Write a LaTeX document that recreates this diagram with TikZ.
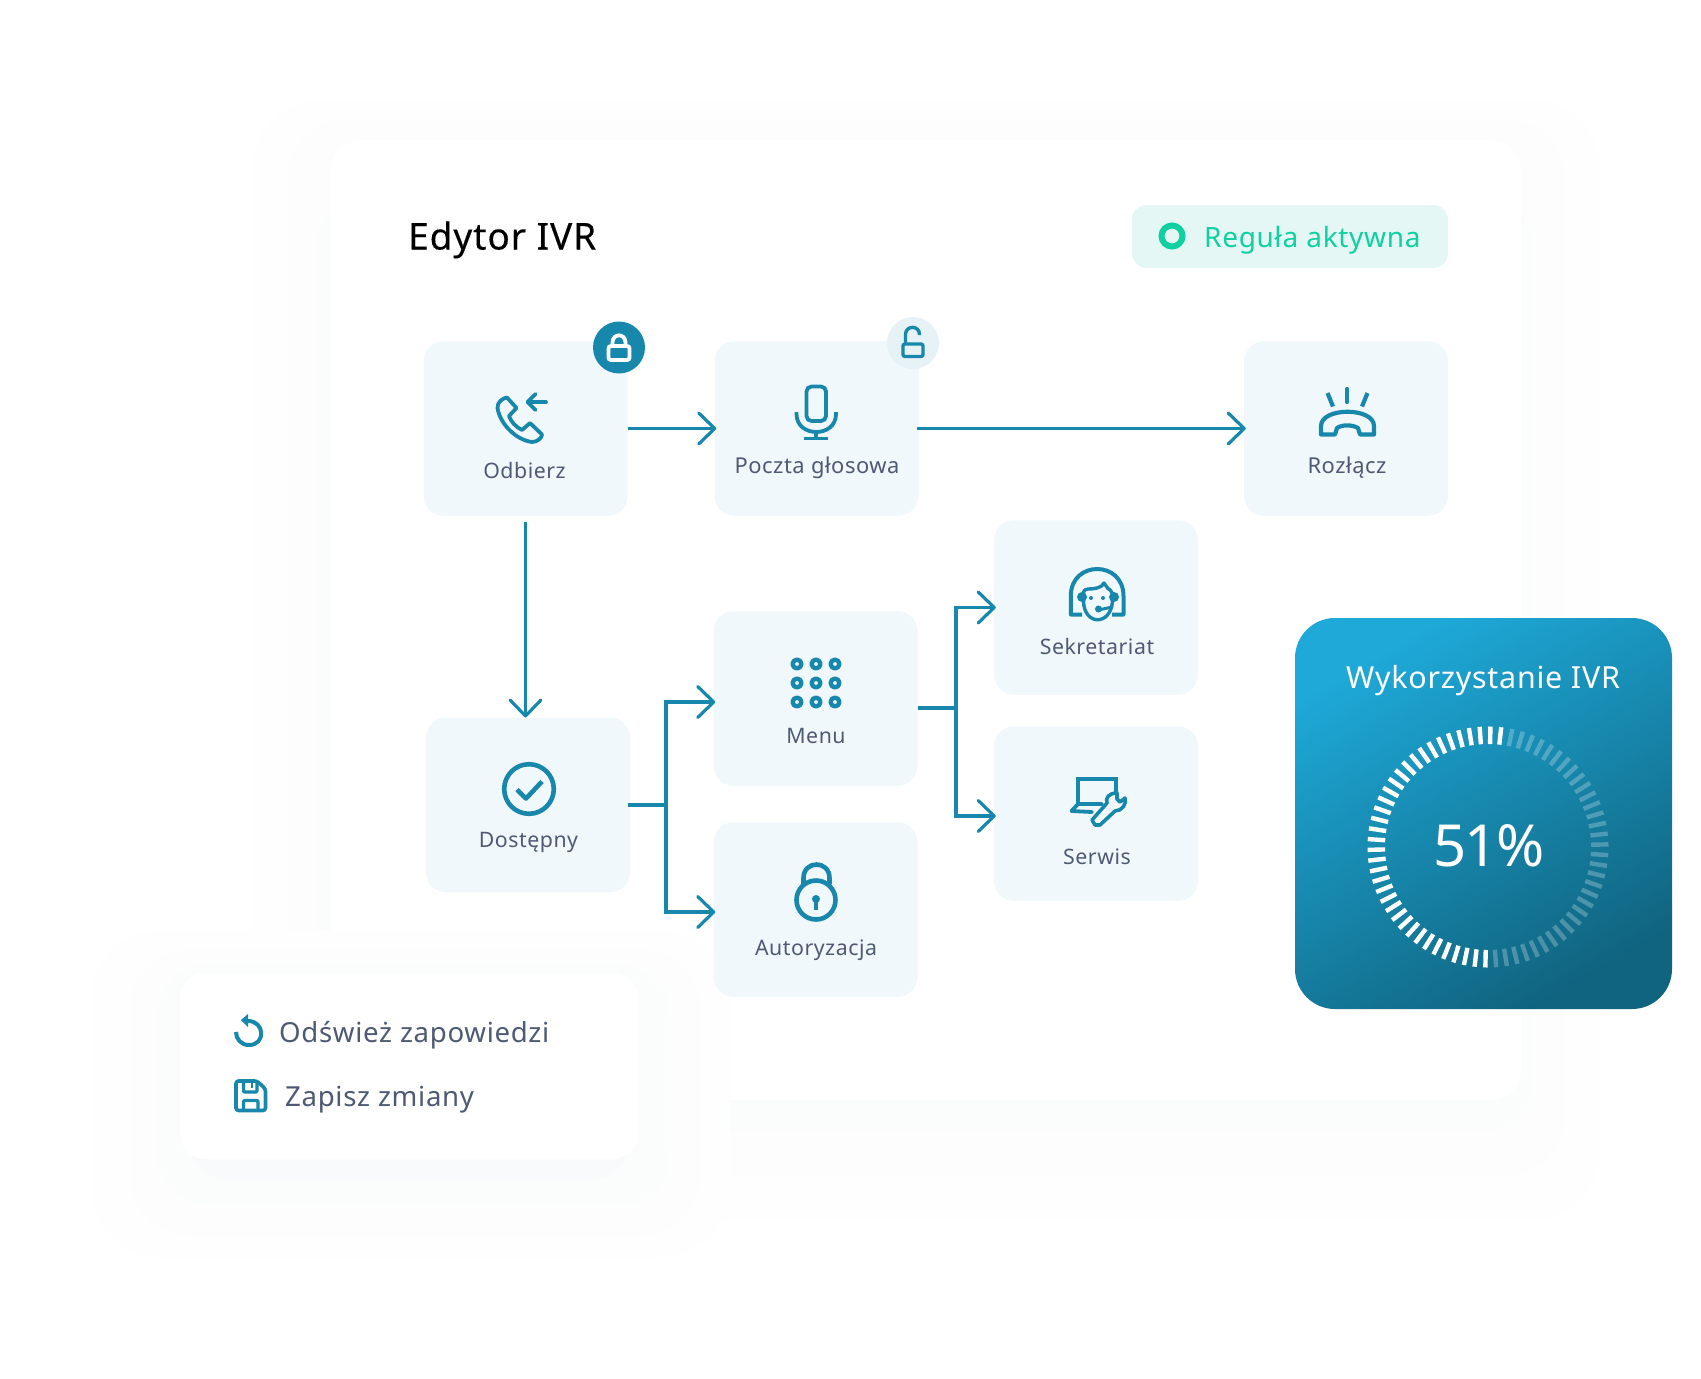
\documentclass[tikz,border=0pt]{standalone}
\usepackage{fontspec}
\setmainfont[LetterSpace=2.5]{Noto Sans}
\newfontfamily\tightfont[LetterSpace=-3]{Noto Sans}
\newfontfamily\titlefont[LetterSpace=2.5,FakeBold=0.3]{Noto Sans}
\usetikzlibrary{arrows.meta,calc}
\definecolor{flowblue}{HTML}{1788AC}
\definecolor{boxfill}{HTML}{F1F8FC}
\definecolor{labelgray}{HTML}{4E5A74}
\definecolor{ruleteal}{HTML}{0FD0A0}
\definecolor{rulefill}{HTML}{E4F7F4}
\definecolor{lockfill}{HTML}{E6F2F6}
\definecolor{gaugetop}{HTML}{1EA9D8}
\definecolor{gaugebot}{HTML}{106480}
\definecolor{shadeA}{HTML}{FEFEFE}
\definecolor{shadeB}{HTML}{FDFDFD}
\definecolor{shadeC}{HTML}{FBFCFC}
\definecolor{shadeD}{HTML}{F9FAFB}
\tikzset{
  box/.style={shape=rectangle, fill=boxfill, rounded corners=20pt, inner sep=0pt, minimum width=204pt, minimum height=174.5pt},
  boxlabel/.style={anchor=base, inner sep=0pt, text=labelgray, font=\fontsize{21.3}{26}\selectfont},
  widelabel/.style={boxlabel, font=\fontsize{21.9}{26}\selectfont},
  listlabel/.style={anchor=base west, inner sep=0pt, text=labelgray, font=\fontsize{27.6}{34}\selectfont},
  flow/.style={draw=flowblue, line width=3.2pt, -{Straight Barb[length=16pt,width=31pt,line width=3.2pt,round]}},
  wire/.style={draw=flowblue, line width=3.2pt},
  icon/.style={draw=flowblue, line width=3.8pt, line cap=round, line join=round},
  tick/.style={draw=white, line width=4.4pt}
}
\begin{document}
\begin{tikzpicture}[x=1pt, y=-1pt]
\useasboundingbox (0,0) rectangle (1701,1379);
\fill[white] (0,0) rectangle (1701,1379);

% soft shade of the panel and of the card
\fill[shadeA, rounded corners=70pt] (252,100) rectangle (1600,1220);
\fill[shadeB, rounded corners=60pt] (287,120) rectangle (1565,1175);
\fill[shadeC, rounded corners=40pt] (318,200) rectangle (1530,1130);
\fill[white, rounded corners=30pt] (331,140) rectangle (1521,1100);
\fill[shadeA, rounded corners=70pt] (91,930) rectangle (730,1257);
\fill[shadeB, rounded corners=60pt] (130,950) rectangle (700,1235);
\fill[shadeC, rounded corners=50pt] (158,965) rectangle (670,1205);
\fill[shadeD, rounded corners=40pt] (190,1010) rectangle (630,1180);

\node[anchor=base west, inner sep=0pt, text=black, font=\fontsize{37}{42}\selectfont\titlefont] (title) at (408,249.5) {Edytor IVR};

\node[shape=rectangle, fill=rulefill, rounded corners=15pt, inner sep=0pt, minimum width=316pt, minimum height=63pt] (rule) at (1290,236.5) {};
\node[shape=circle, draw=ruleteal, line width=6pt, inner sep=0pt, minimum size=21pt] (ruledot) at (1172,236) {};
\node[anchor=base west, inner sep=0pt, text=ruleteal, font=\fontsize{28}{34}\selectfont] (ruletext) at (1204,247) {Reguła aktywna};

\node[box] (odbierz) at (525.5,428.5) {};
\node[box] (poczta) at (816.5,428.5) {};
\node[box] (rozlacz) at (1346,428.5) {};
\node[box] (sekretariat) at (1096,607.5) {};
\node[box] (serwis) at (1096,813.5) {};
\node[box] (menu) at (815.5,698.5) {};
\node[box] (autoryzacja) at (815.5,909.5) {};
\node[box] (dostepny) at (528,805) {};

\node[boxlabel] (odbierztext) at (524.5,478) {Odbierz};
\node[widelabel] (pocztatext) at (817,473) {Poczta głosowa};
\node[widelabel] (rozlacztext) at (1347,473) {Rozłącz};
\node[boxlabel] (sekretariattext) at (1097,654) {Sekretariat};
\node[boxlabel] (serwistext) at (1097,864) {Serwis};
\node[boxlabel] (menutext) at (816,743) {Menu};
\node[boxlabel] (autoryzacjatext) at (816,955) {Autoryzacja};
\node[boxlabel] (dostepnytext) at (528.5,847) {Dostępny};

% connectors
\coordinate (dostepnybus) at (666,805);
\coordinate (menubus) at (956,708);
\draw[flow] (odbierz.east) -- ([xshift=2pt]poczta.west);
\draw[flow] ([xshift=-2pt]poczta.east) -- ([xshift=2pt]rozlacz.west);
\draw[flow] ([yshift=-6pt]odbierz.south) -- (odbierz.south |- dostepny.north);
\draw[wire] ([xshift=-2pt]dostepny.east) -- (dostepnybus);
\draw[flow] (dostepnybus) |- ([xshift=2pt,yshift=-3.5pt]menu.west);
\draw[flow] (dostepnybus) |- ([xshift=2pt,yshift=-2.5pt]autoryzacja.west);
\draw[wire] ([yshift=-9.5pt]menu.east) -- (menubus);
\draw[flow] (menubus) |- ([xshift=2pt]sekretariat.west);
\draw[flow] (menubus) |- ([xshift=2pt,yshift=-2.5pt]serwis.west);

% lock badges
\node[shape=circle, fill=flowblue, inner sep=0pt, minimum size=52pt] (lockon) at (619,347.5) {};
\draw[draw=white, line width=3.8pt, rounded corners=2.5pt] (608.5,346) rectangle (629.5,360);
\draw[draw=white, line width=3.8pt] (612.5,345) -- (612.5,342.5) .. controls (612.5,333) and (625.5,333) .. (625.5,342.5) -- (625.5,345);
\node[shape=circle, fill=lockfill, inner sep=0pt, minimum size=52pt] (lockoff) at (913,343) {};
\draw[icon, line width=3.4pt, rounded corners=2pt] (903,344) rectangle (923,356.5);
\draw[icon, line width=3.4pt, line cap=butt] (905.5,344) -- (905.5,334.5) .. controls (905.5,325) and (919.5,325) .. (919.5,334.5) -- (919.5,335);

% icons
\draw[icon] (507,397.5) .. controls (503,398) and (497,402) .. (497.5,408) .. controls (500,424) and (516,440) .. (532,442) .. controls (537,442) and (542,438) .. (542,434.5) -- (530,423) -- (522,430) .. controls (516,427) and (511,422) .. (509,416) -- (516.5,408) -- cycle;
\draw[icon] (546,402) -- (529,402);
\draw[icon] (535.5,394) -- (527.5,402) -- (535.5,410);

\draw[icon, rounded corners=5pt] (806.5,386.5) rectangle (826,421);
\draw[icon, line cap=butt] (796.5,412) -- (796.5,414) .. controls (796.5,438) and (836,438) .. (836,414) -- (836,412);
\draw[icon, line cap=butt] (816,431) -- (816,438);
\draw[icon, line cap=butt] (804,438.5) -- (828,438.5);

\draw[icon, line width=4.2pt] (1347,389) -- (1347,402);
\draw[icon, line width=4.2pt, line cap=butt] (1327.5,393) -- (1333,406.5);
\draw[icon, line width=4.2pt, line cap=butt] (1367.5,393) -- (1362,406.5);
\draw[icon, line width=4.2pt] (1321,434.5) -- (1321,426) .. controls (1321,407) and (1374,407) .. (1374,426) -- (1374,434.5) -- (1360,434.5) -- (1358,428) .. controls (1352,424.5) and (1342,424.5) .. (1337,428) -- (1335,434.5) -- cycle;

\draw[icon, line cap=butt, line width=4pt] (1082,614.5) -- (1070.8,614.5) -- (1070.8,596) .. controls (1070.8,560) and (1123.5,560) .. (1123.5,596) -- (1123.5,614.5) -- (1112,614.5);
\draw[icon, line width=3.4pt] (1083.5,601) .. controls (1084,626) and (1111,626) .. (1112.5,601) .. controls (1114,594) and (1111,590) .. (1108,588.5) -- (1104,583) .. controls (1102,588) and (1094,589) .. (1088,589) .. controls (1083,589) and (1082,594) .. (1083.5,601);
\fill[flowblue] (1082,597) circle (5pt);
\fill[flowblue] (1114,597) circle (5pt);
\fill[flowblue] (1091,598) circle (2pt);
\fill[flowblue] (1103,598) circle (2pt);
\draw[icon, line width=3pt] (1098.5,610) -- (1112,607);
\fill[flowblue] (1098.5,609) circle (3.5pt);

\draw[icon, line cap=butt, line join=miter] (1078,803) -- (1078,779) -- (1116,779) -- (1116,796);
\draw[icon] (1102,804) -- (1078,804) -- (1071.5,811) -- (1092,812);
\draw[icon, fill=boxfill, line width=3.6pt] (1095,825) -- (1092,820) -- (1107,803) .. controls (1105,798) and (1109,793) .. (1117,793) -- (1117,799) -- (1120,802) -- (1125,798) .. controls (1127,804) and (1122,811) .. (1115,811) -- (1100,825) -- cycle;

\draw[icon, line width=4.6pt] (529,789) circle (24.8pt);
\draw[icon, line width=4.6pt, line cap=butt] (517,789.5) -- (526,798.5) -- (542,781.5);

\foreach \x in {797,816,835}{
  \foreach \y in {664,683,702}{
    \draw[icon, line width=4.4pt] (\x,\y) circle (4.4pt);
  }
}

\draw[icon, line width=4.6pt, line cap=butt] (803.5,884) -- (803.5,878) .. controls (803.5,860) and (829.5,860) .. (829.5,878) -- (829.5,884);
\draw[icon, line width=4.6pt] (816,900) circle (19.5pt);
\fill[flowblue] (816,899) circle (4pt);
\draw[icon, line width=3.8pt, line cap=butt] (816,899) -- (816,909.5);

% usage gauge
\path[rounded corners=40pt, top color=gaugetop, bottom color=gaugebot, shading angle=30] (1295,618) rectangle (1672,1009);
\node[anchor=base, inner sep=0pt, text=white, font=\fontsize{30.4}{36}\selectfont] (gaugetitle) at (1483,688) {Wykorzystanie IVR};
\node[anchor=base, inner sep=0pt, text=white, font=\fontsize{58}{64}\selectfont\tightfont] (gaugevalue) at (1489,866) {51\%};
\begin{scope}[shift={(1488,847)}]
\foreach \i in {0,...,69}{
  \pgfmathsetmacro{\a}{-83.7-5.14*\i}
  \ifnum\i<37
    \draw[tick] (\a:103) -- (\a:120.5);
  \else
    \draw[tick, opacity=0.25] (\a:103) -- (\a:120.5);
  \fi
}
\end{scope}

% action card
\node[shape=rectangle, fill=white, rounded corners=25pt, inner sep=0pt, minimum width=458pt, minimum height=186pt] (actions) at (409,1066) {};
\node[listlabel] (refreshtext) at (279,1042) {Odśwież zapowiedzi};
\node[listlabel] (savetext) at (285,1106) {Zapisz zmiany};

\draw[icon, line width=4pt, line cap=butt] (248,1021) .. controls (265,1021) and (266,1045) .. (249,1045) .. controls (241,1045) and (236,1039) .. (236,1032);
\fill[flowblue] (241,1020) -- (248,1014) -- (248,1027) -- cycle;

\draw[icon, line width=3.6pt, line cap=butt, rounded corners=2.5pt] (236,1081) -- (257,1081) -- (265.5,1089) -- (265.5,1110.5) -- (236,1110.5) -- cycle;
\draw[icon, line width=3.2pt, line cap=butt, rounded corners=1pt] (243.5,1081) -- (243.5,1092) -- (257,1092) -- (257,1081);
\draw[icon, line width=3.2pt, line cap=butt, rounded corners=1pt] (243.5,1110.5) -- (243.5,1100.5) -- (258,1100.5) -- (258,1110.5);
\draw[icon, line width=2.6pt, line cap=butt] (252,1083) -- (252,1088);
\end{tikzpicture}
\end{document}
